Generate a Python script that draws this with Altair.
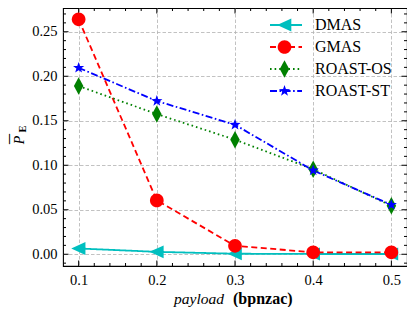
import altair as alt
import pandas as pd
import numpy as np

payload = [0.1, 0.2, 0.3, 0.4, 0.5]
series_names = ["DMAS", "GMAS", "ROAST-OS", "ROAST-ST"]
dmas = [0.0065, 0.0027, 0.0006, 0.0003, 0.0003]
gmas = [0.264, 0.0605, 0.0095, 0.0022, 0.0022]
roast_os = [0.189, 0.1575, 0.1287, 0.0955, 0.0545]
roast_st = [0.2095, 0.1722, 0.1455, 0.0942, 0.0555]

x_major = [0.1, 0.2, 0.3, 0.4, 0.5]
x_minor = [0.12, 0.14, 0.16, 0.18, 0.22, 0.24, 0.26, 0.28,
           0.32, 0.34, 0.36, 0.38, 0.42, 0.44, 0.46, 0.48]
y_major = [0.00, 0.05, 0.10, 0.15, 0.20, 0.25]
y_minor = [-0.01, 0.01, 0.02, 0.03, 0.04, 0.06, 0.07, 0.08, 0.09,
           0.11, 0.12, 0.13, 0.14, 0.16, 0.17, 0.18, 0.19,
           0.21, 0.22, 0.23, 0.24, 0.26, 0.27]

colors = ["#00BFBF", "#FF0000", "#008000", "#0000FF"]
dashes = [[1, 0], [6, 3.5], [1.6, 3], [7, 2.5, 1.6, 2.5]]

W, H = 344, 258

def star_path(R=0.62, r=0.25):
    pts = []
    for k in range(10):
        a = np.deg2rad(-90 + 36 * k)
        rad = R if k % 2 == 0 else r
        pts.append(f"{rad*np.cos(a):.3f},{rad*np.sin(a):.3f}")
    return "M" + "L".join(pts) + "Z"

shapes = [
    "M-0.78,0L0.72,-0.68L0.72,0.68Z",
    "M0.72,0A0.72,0.72,0,1,1,-0.72,0A0.72,0.72,0,1,1,0.72,0Z",
    "M0,-0.92L0.5,0L0,0.92L-0.5,0Z",
    star_path(),
]

rows = []
for name, vals in zip(series_names, [dmas, gmas, roast_os, roast_st]):
    for xv, yv in zip(payload, vals):
        rows.append({"series": name, "series_b": name, "x": xv, "y": yv})
df = pd.DataFrame(rows)

FONT = "Liberation Serif"
xs = alt.Scale(domain=[0.08, 0.52], nice=False, zero=False)
ys = alt.Scale(domain=[-0.0132, 0.2767], nice=False, zero=False)

x_axis = alt.Axis(values=x_major, ticks=False, domain=False, grid=True, title=None,
                  format=".1f", labelFont=FONT, labelFontSize=14.5, labelColor="black",
                  labelPadding=7, gridColor="#b3b3b3", gridDash=[3.5, 2], gridWidth=0.8,
                  labelFlush=False)
y_axis = alt.Axis(values=y_major, ticks=False, domain=False, grid=True, title=None,
                  format=".2f", labelFont=FONT, labelFontSize=14.5, labelColor="black",
                  labelPadding=6, gridColor="#b3b3b3", gridDash=[3.5, 2], gridWidth=0.8,
                  labelFlush=False)

legend_line = alt.Legend(orient="none", legendX=206, legendY=6, title=None,
                         symbolType="stroke", symbolSize=1024, symbolStrokeWidth=1.8,
                         labelFont=FONT, labelFontSize=16, labelColor="black",
                         labelOffset=12, clipHeight=22, rowPadding=0, padding=0)
legend_pt = alt.Legend(orient="none", legendX=212, legendY=6, title=None,
                       symbolSize=360, labelExpr="''", labelFont=FONT,
                       labelFontSize=16, clipHeight=22, rowPadding=0, padding=0,
                       symbolStrokeWidth=0)

lines = alt.Chart(df).mark_line(strokeWidth=1.8).encode(
    x=alt.X("x:Q", scale=xs, axis=x_axis),
    y=alt.Y("y:Q", scale=ys, axis=y_axis),
    stroke=alt.Stroke("series:N", scale=alt.Scale(domain=series_names, range=colors), legend=legend_line),
    strokeDash=alt.StrokeDash("series:N", scale=alt.Scale(domain=series_names, range=dashes), legend=legend_line),
)

points = alt.Chart(df).mark_point(filled=True, opacity=1, size=360, strokeWidth=0).encode(
    x=alt.X("x:Q", scale=xs),
    y=alt.Y("y:Q", scale=ys),
    fill=alt.Fill("series_b:N", scale=alt.Scale(range=colors), legend=legend_pt),
    shape=alt.Shape("series_b:N", scale=alt.Scale(range=shapes), legend=legend_pt),
)

def xticks(vals, length, top):
    d = pd.DataFrame({"v": vals})
    y1 = 0 if top else H
    y2 = length if top else H - length
    return alt.Chart(d).mark_rule(color="black", strokeWidth=1).encode(
        x=alt.X("v:Q", scale=xs), y=alt.value(y1), y2=alt.value(y2))

def yticks(vals, length, right):
    d = pd.DataFrame({"v": vals})
    x1 = W if right else 0
    x2 = W - length if right else length
    return alt.Chart(d).mark_rule(color="black", strokeWidth=1).encode(
        y=alt.Y("v:Q", scale=ys), x=alt.value(x1), x2=alt.value(x2))

ticks = [
    xticks(x_major, 5.5, False), xticks(x_minor, 3, False),
    xticks(x_major, 5.5, True), xticks(x_minor, 3, True),
    yticks(y_major, 5.5, False), yticks(y_minor, 3, False),
    yticks(y_major, 5.5, True), yticks(y_minor, 3, True),
]

one = alt.Data(values=[{"a": 1}])
t1 = alt.Chart(one).mark_text(text="payload", font=FONT, fontSize=15.5, fontStyle="italic",
                              align="right", baseline="alphabetic", color="black").encode(
    x=alt.value(161), y=alt.value(296))
t2 = alt.Chart(one).mark_text(text="(bpnzac)", font=FONT, fontSize=16, fontWeight="bold",
                              align="left", baseline="alphabetic", color="black").encode(
    x=alt.value(170), y=alt.value(296))
t3 = alt.Chart(one).mark_text(text="P", font=FONT, fontSize=14, fontStyle="italic",
                              align="center", baseline="middle", angle=270, color="black").encode(
    x=alt.value(-43), y=alt.value(132))
t3b = alt.Chart(one).mark_text(text="\u00af", font=FONT, fontSize=20,
                               align="center", baseline="middle", angle=270, color="black").encode(
    x=alt.value(-44), y=alt.value(131))
t4 = alt.Chart(one).mark_text(text="E", font=FONT, fontSize=10.5, fontWeight="bold",
                              align="center", baseline="middle", angle=270, color="black").encode(
    x=alt.value(-40), y=alt.value(121))

chart = alt.layer(*ticks, lines, points, t1, t2, t3, t3b, t4).properties(
    width=W, height=H,
    autosize=alt.AutoSizeParams(type="none"),
    padding={"left": 55, "top": 0, "right": 0, "bottom": 41},
).configure_view(stroke="black", strokeWidth=1.1)

chart.save("out.html", embed_options={"renderer": "svg", "actions": False})
